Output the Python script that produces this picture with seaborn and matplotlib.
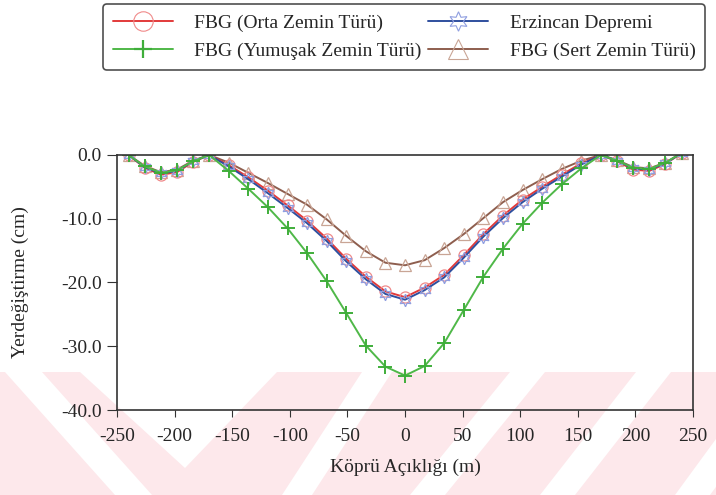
import numpy as np
import pandas as pd
import seaborn as sns
import matplotlib.pyplot as plt
from matplotlib.lines import Line2D
from matplotlib.patches import Polygon
from matplotlib.ticker import FuncFormatter

# Bridge span positions (m)
span_x = [-240, -226, -212, -198, -184,
          -170, -153, -136, -119, -102, -85, -68, -51, -34, -17, 0,
          17, 34, 51, 68, 85, 102, 119, 136, 153, 170,
          184, 198, 212, 226, 240]

# Displacements (cm)
orta = [0, -2.0, -3.1, -2.7, -1.1,
        0, -1.6, -3.5, -5.6, -7.9, -10.3, -13.1, -16.3, -19.1, -21.4, -22.3,
        -20.8, -18.8, -15.7, -12.4, -9.5, -7.0, -5.0, -3.1, -1.3, 0,
        -1.0, -2.3, -2.5, -1.4, 0.3]
yumusak = [0, -1.8, -2.8, -2.4, -1.0,
           0, -2.5, -5.3, -8.2, -11.5, -15.4, -19.8, -24.8, -29.9, -33.2, -34.6,
           -33.1, -29.5, -24.3, -19.1, -14.7, -10.8, -7.5, -4.6, -2.1, 0,
           -0.9, -2.0, -2.2, -1.2, 0.3]
erzincan = [0, -1.9, -2.9, -2.5, -1.0,
            0, -1.8, -3.8, -6.0, -8.3, -10.7, -13.5, -16.7, -19.5, -21.8, -22.7,
            -21.2, -19.2, -16.1, -12.8, -9.9, -7.4, -5.3, -3.4, -1.5, 0,
            -0.9, -2.1, -2.3, -1.3, 0.3]
sert = [0, -1.7, -2.7, -2.3, -0.9,
        0, -1.2, -2.8, -4.4, -6.1, -7.8, -10.1, -12.7, -15.1, -16.9, -17.3,
        -16.5, -14.6, -12.4, -9.9, -7.4, -5.5, -3.8, -2.2, -0.9, 0,
        -0.8, -1.9, -2.1, -1.2, 0.3]

labels = ['FBG (Orta Zemin Türü)', 'FBG (Yumuşak Zemin Türü)',
          'Erzincan Depremi', 'FBG (Sert Zemin Türü)']

df = pd.DataFrame({'x': span_x, labels[0]: orta, labels[1]: yumusak,
                   labels[2]: erzincan, labels[3]: sert})

sns.set_style('ticks')
plt.rcParams['font.family'] = ['Liberation Serif', 'DejaVu Serif']
plt.rcParams['axes.unicode_minus'] = False

# line colour, marker colour, marker, size
styles = {
    labels[0]: ('#e23a3a', '#f08a8a', 'o', 8),
    labels[1]: ('#4fb848', '#3fae3a', '+', 10),
    labels[2]: ('#2f4f9e', '#8f9ee0', (6, 1, 0), 9),
    labels[3]: ('#8e5e4e', '#c9a595', '^', 8.5),
}

fig = plt.figure(figsize=(7.16, 4.95), dpi=100)

# faint diagonal watermark of the scanned page (pixel outlines)
W, H = 716, 495
band = [(0, 372), (W, 372), (W, H), (0, H)]
gaps = [
    [(5, 372), (42, 372), (152, 495), (115, 495)],
    [(80, 372), (277, 372), (185, 468)],
    [(362, 372), (392, 372), (312, 495), (282, 495)],
    [(510, 372), (545, 372), (445, 495), (410, 495)],
    [(636, 372), (671, 372), (575, 495), (540, 495)],
    [(765, 372), (800, 372), (710, 495), (675, 495)],
]
def to_fig(pts):
    return [(px / W, 1 - py / H) for px, py in pts]
fig.add_artist(Polygon(to_fig(band), closed=True, transform=fig.transFigure,
                       facecolor='#fde8eb', edgecolor='none', zorder=-2))
for g in gaps:
    fig.add_artist(Polygon(to_fig(g), closed=True, transform=fig.transFigure,
                           facecolor='white', edgecolor='none', zorder=-1))

ax = fig.add_axes([0.1634, 0.1717, 0.8046, 0.5152])
ax.set_facecolor('none')

for name in [labels[3], labels[0], labels[2], labels[1]]:
    lc, mc, mk, ms = styles[name]
    sns.lineplot(data=df, x='x', y=name, ax=ax, color=lc, lw=1.4,
                 marker=mk, markersize=ms, markerfacecolor='none',
                 markeredgecolor=mc, markeredgewidth=1.4 if mk == '+' else 0.9)

handles = []
for name in labels:
    lc, mc, mk, ms = styles[name]
    big = {'o': 14, '+': 13, '^': 14}.get(mk, 14)
    handles.append(Line2D([], [], color=lc, lw=1.4, marker=mk, markersize=big,
                          markerfacecolor='none', markeredgecolor=mc,
                          markeredgewidth=1.6 if mk == '+' else 0.8))

ax.set_xlim(-250, 250)
ax.set_ylim(-40, 0)
ax.set_xticks(np.arange(-250, 251, 50))
ax.set_yticks(np.arange(-40, 1, 10))
ax.yaxis.set_major_formatter(FuncFormatter(lambda v, _: f'{v:.1f}'))
ax.tick_params(axis='both', labelsize=14, direction='out', color='#333333')
ax.tick_params(axis='x', length=5, pad=8)
ax.tick_params(axis='y', length=7, pad=4)
for side in ['top', 'right', 'bottom', 'left']:
    ax.spines[side].set_visible(True)
    ax.spines[side].set_color('#333333')
    ax.spines[side].set_linewidth(1.2)

ax.set_xlabel('Köprü Açıklığı (m)', fontsize=14, labelpad=10)
ax.set_ylabel('Yerdeğiştirme (cm)', fontsize=14, labelpad=23)

leg = fig.legend(handles, labels, ncol=2, loc='lower left',
                 bbox_to_anchor=(0.144, 0.859, 0.841, 0.131), mode='expand',
                 borderaxespad=0, fontsize=14, handlelength=3.1,
                 handletextpad=1.1, labelspacing=0.55, borderpad=0.5,
                 columnspacing=0.5, frameon=True, fancybox=True)
leg.get_frame().set_edgecolor('#222222')
leg.get_frame().set_linewidth(1.2)

fig.savefig('out.png', dpi=100)
